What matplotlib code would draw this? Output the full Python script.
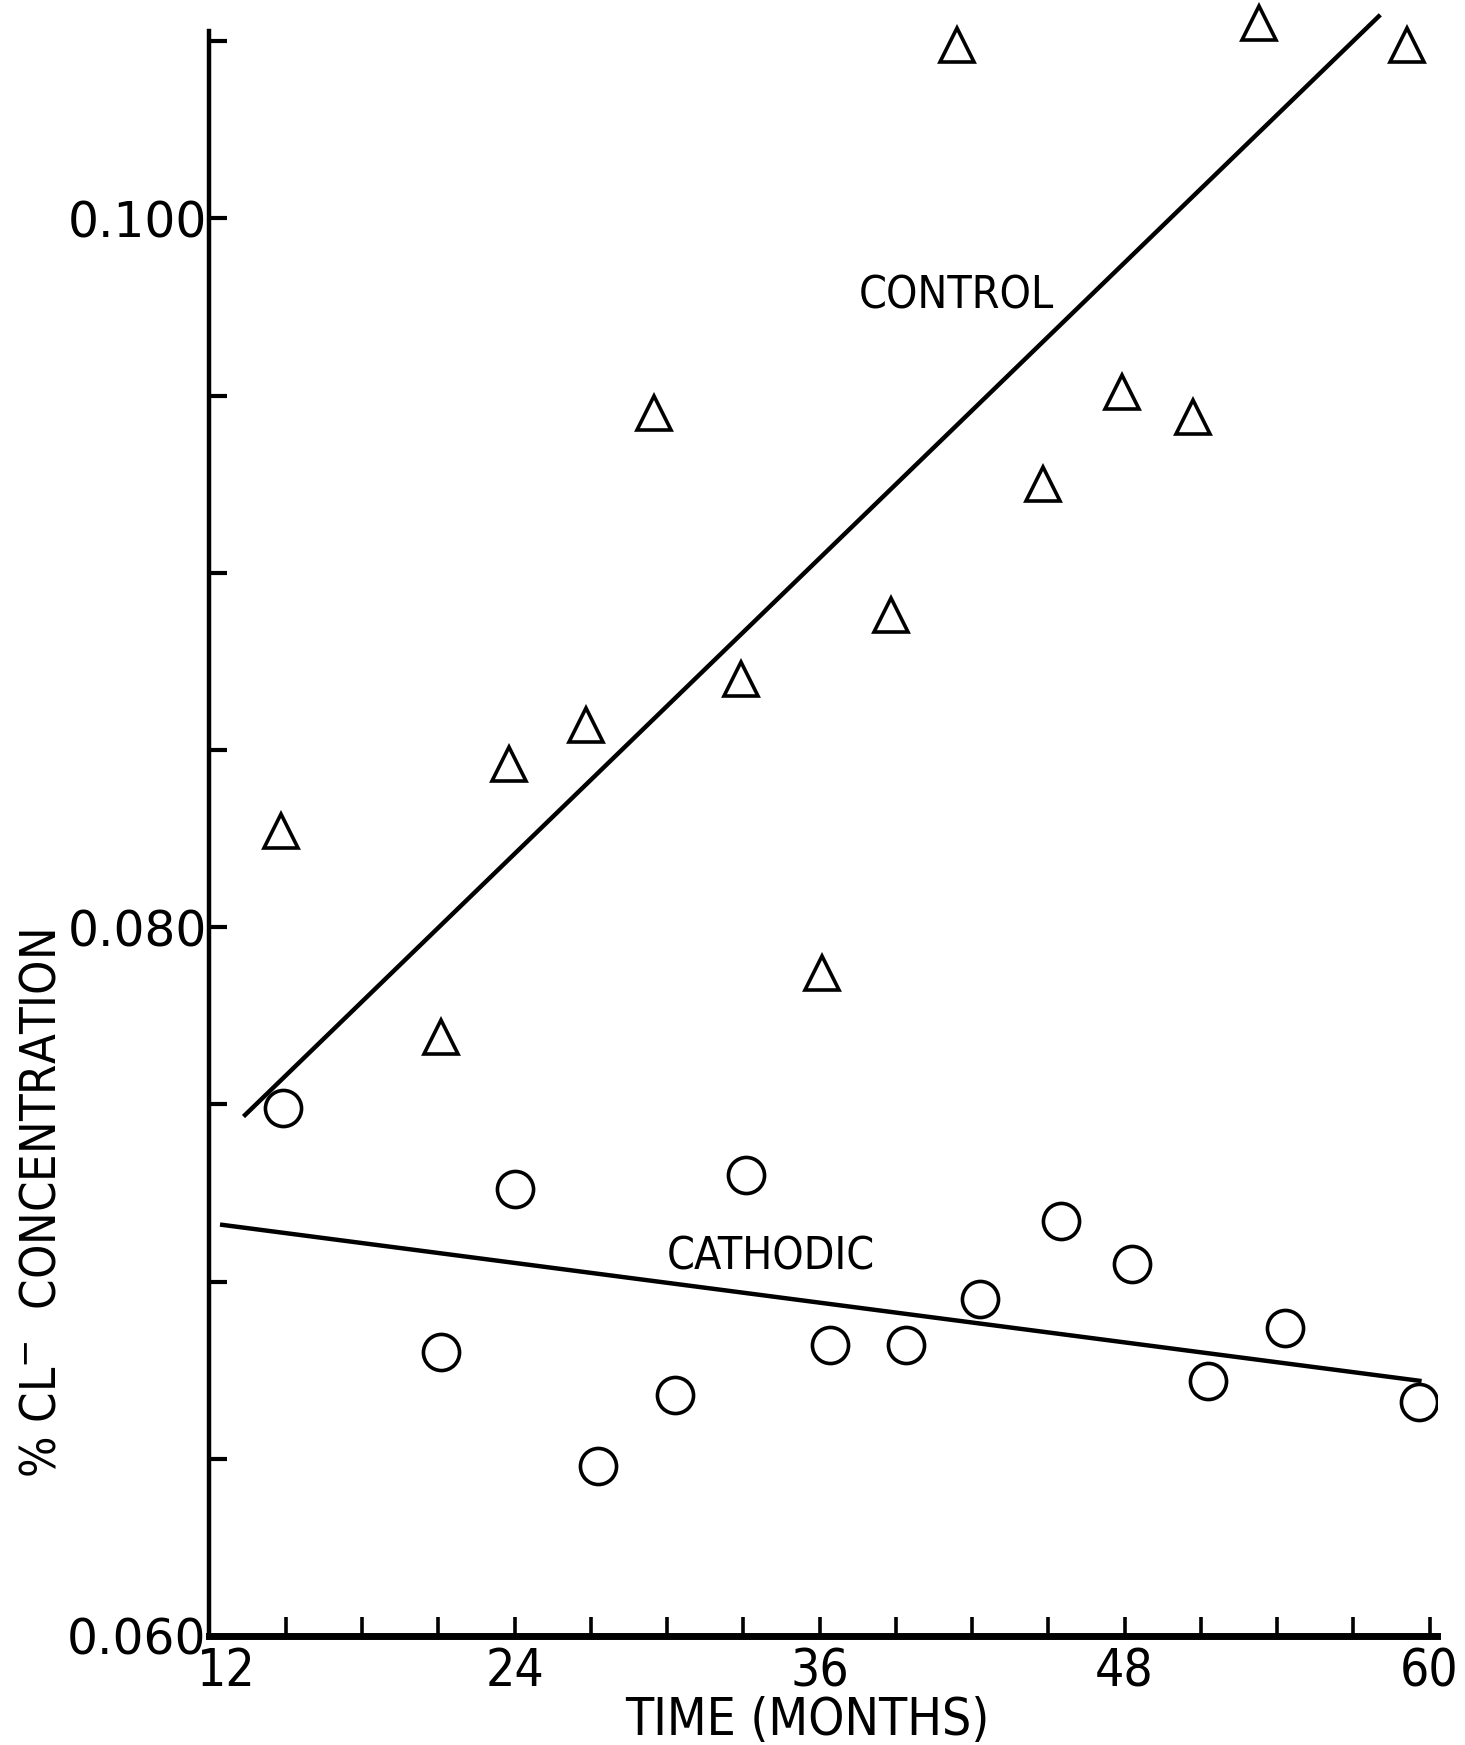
import numpy as np
import matplotlib
matplotlib.use("Agg")
import matplotlib.pyplot as plt
from matplotlib.ticker import MultipleLocator, FixedLocator
from matplotlib.transforms import ScaledTranslation

# control specimens (triangles)
control_months = [14.8, 21.1, 23.8, 26.8, 29.5, 32.9, 36.1, 38.8, 41.4, 44.8, 47.9, 50.7, 53.3, 59.1]
control_cl = [0.0827, 0.0769, 0.0846, 0.0857, 0.0945, 0.0870, 0.0787, 0.0888,
              0.1049, 0.0925, 0.0951, 0.0944, 0.1055, 0.1049]

# cathodically protected specimens (circles)
cathodic_months = [14.9, 21.1, 24.0, 27.3, 30.3, 33.1, 36.4, 39.4, 42.3, 45.5, 48.3, 51.3, 54.3, 59.6]
cathodic_cl = [0.0749, 0.0680, 0.0726, 0.0648, 0.0668, 0.0730, 0.0682, 0.0682,
               0.0695, 0.0717, 0.0705, 0.0672, 0.0687, 0.0666]

# fitted trend lines (end points)
control_fit_x = [13.4, 58.0]
control_fit_y = [0.0747, 0.1057]
cathodic_fit_x = [12.5, 59.6]
cathodic_fit_y = [0.0716, 0.0672]

xticks_major = [12, 24, 36, 48, 60]
yticks_major = [0.060, 0.080, 0.100]

cond = dict(family='DejaVu Sans', stretch='condensed')

fig = plt.figure(figsize=(14.65, 17.45), dpi=100)
ax = fig.add_axes([0.143, 0.0625, 0.838, 0.92])

ax.plot(control_fit_x, control_fit_y, color='black', lw=3.2, clip_on=False)
ax.plot(cathodic_fit_x, cathodic_fit_y, color='black', lw=3.2)
ax.plot(control_months, control_cl, linestyle='none', marker='^', ms=24,
        mfc='white', mec='black', mew=2.6, clip_on=False)
ax.plot(cathodic_months, cathodic_cl, linestyle='none', marker='o', ms=26,
        mfc='white', mec='black', mew=2.6)

ax.set_xlim(12, 60.3)
ax.set_ylim(0.060, 0.1053)

for s in ['top', 'right']:
    ax.spines[s].set_visible(False)
ax.spines['left'].set_linewidth(3.2)
ax.spines['bottom'].set_linewidth(5)

ax.xaxis.set_major_locator(FixedLocator(xticks_major))
ax.xaxis.set_minor_locator(MultipleLocator(3))
ax.yaxis.set_major_locator(FixedLocator(yticks_major))
ax.yaxis.set_minor_locator(MultipleLocator(0.005))
ax.set_yticklabels(['0.060', '0.080', '0.100'])
ax.set_xticklabels([str(v) for v in xticks_major])

ax.tick_params(axis='y', which='both', direction='in', length=13, width=3, pad=2,
               labelsize=35)
ax.tick_params(axis='x', which='both', direction='in', length=14, width=2.6, pad=8,
               labelsize=37)
for lab in ax.get_xticklabels():
    lab.set_fontstretch('condensed')

# nudge the "12" right so it clears the 0.060 label
first = ax.get_xticklabels()[0]
first.set_transform(first.get_transform() + ScaledTranslation(0.17, 0, fig.dpi_scale_trans))

ax.text(41.4, 0.0978, 'CONTROL', fontsize=32, ha='center', va='center', **cond)
ax.text(34.1, 0.0707, 'CATHODIC', fontsize=32, ha='center', va='center', **cond)

fig.text(0.551, 0.014, 'TIME (MONTHS)', fontsize=37, ha='center', va='center', **cond)
fig.text(0.028, 0.31, '% CL$^{-}$  CONCENTRATION', fontsize=35,
         rotation=90, ha='center', va='center', **cond)

fig.savefig('out.png', dpi=100, facecolor='white')
